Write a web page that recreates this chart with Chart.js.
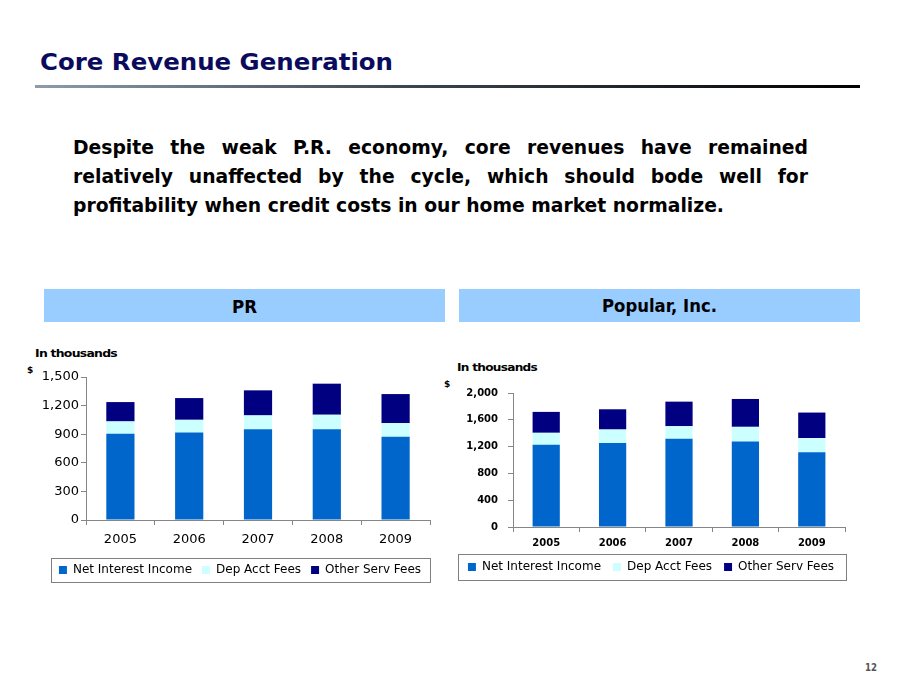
<!DOCTYPE html>
<html><head><meta charset="utf-8">
<script src="https://cdn.jsdelivr.net/npm/chart.js@4"></script>
<style>
html,body{margin:0;padding:0;background:#fff;}
body{width:898px;height:694px;position:relative;overflow:hidden;font-family:"DejaVu Sans",sans-serif;}
.t{position:absolute;top:0;white-space:nowrap;transform-origin:0 50%;line-height:1;}
.bp{display:inline-block;width:0;height:0;vertical-align:baseline;}
.hdr{position:absolute;background:#99ccff;}
canvas{position:absolute;}
</style></head>
<body>
<div class="t" id="title" style="left:40px;font:bold 22.5px 'DejaVu Sans';color:#0b0b5e;">Core Revenue Generation<span class="bp"></span></div>
<div style="position:absolute;left:35px;top:85px;width:825px;height:3px;background:linear-gradient(to right,#8c9cab,#3c4650 45%,#000);"></div>

<div class="t para" id="p1" style="left:73px;">Despite the weak P.R. economy, core revenues have remained<span class="bp"></span></div>
<div class="t para" id="p2" style="left:73px;">relatively unaffected by the cycle, which should bode well for<span class="bp"></span></div>
<div class="t para" id="p3" style="left:73px;">profitability when credit costs in our home market normalize.<span class="bp"></span></div>

<div class="hdr" style="left:44px;top:289px;width:401px;height:33px;"></div>
<div class="hdr" style="left:459px;top:289px;width:401px;height:33px;"></div>
<div class="t hd" id="h1">PR<span class="bp"></span></div>
<div class="t hd" id="h2">Popular, Inc.<span class="bp"></span></div>

<div class="t unit" id="u1">In thousands<span class="bp"></span></div>
<div class="t dol" id="d1">$<span class="bp"></span></div>
<div class="t unit" id="u2">In thousands<span class="bp"></span></div>
<div class="t dol" id="d2">$<span class="bp"></span></div>

<div class="t" id="pg" style="font:bold 10px 'DejaVu Sans';color:#555;">12<span class="bp"></span></div>

<canvas id="c1" width="445" height="230" style="left:0px;top:360px;"></canvas>
<canvas id="c2" width="420" height="210" style="left:440px;top:375px;"></canvas>

<script>
// ---- data ----
const years = ['2005', '2006', '2007', '2008', '2009'];
const seriesNames = ['Net Interest Income', 'Dep Acct Fees', 'Other Serv Fees'];
const seriesColors = ['#0066cc', '#ccffff', '#000080'];
// PR (in thousands)
const prNetInterestIncome = [904, 918, 953, 953, 873];
const prDepAcctFees = [130, 133, 144, 151, 143];
const prOtherServFees = [203, 228, 263, 326, 305];
const prTicks = [0, 300, 600, 900, 1200, 1500];
// Popular, Inc. (in thousands)
const popNetInterestIncome = [1228, 1252, 1317, 1277, 1114];
const popDepAcctFees = [178, 203, 188, 218, 213];
const popOtherServFees = [312, 302, 366, 416, 381];
const popTicks = [0, 400, 800, 1200, 1600, 2000];

// ---- text layout ----
function place(id, x, baseline, width, centerX) {
  const el = document.getElementById(id);
  el.style.transform = 'none';
  el.style.left = (x || 0) + 'px';
  el.style.top = '0px';
  const w = el.getBoundingClientRect().width;
  if (width) { el.style.transform = 'scaleX(' + (width / w) + ')'; }
  if (centerX !== undefined) { el.style.left = (centerX - width / 2) + 'px'; }
  const pr = el.querySelector('.bp').getBoundingClientRect();
  el.style.top = (baseline - pr.top) + 'px';
}
function layoutText() {
  document.querySelectorAll('.para').forEach(e => { e.style.font = "bold 19.5px 'DejaVu Sans Condensed','DejaVu Sans'"; e.style.color = '#000'; });
  document.querySelectorAll('.hd').forEach(e => { e.style.font = "bold 18px 'DejaVu Sans Condensed','DejaVu Sans'"; e.style.color = '#000'; });
  document.querySelectorAll('.unit').forEach(e => { e.style.font = "bold 10px 'DejaVu Sans'"; e.style.letterSpacing = '-0.6px'; e.style.color = '#000'; });
  document.querySelectorAll('.dol').forEach(e => { e.style.font = "bold 9px 'DejaVu Sans'"; e.style.color = '#000'; });
  place('title', 40, 70, 353);
  // paragraph: last line defines scale; first two justified
  const ids = ['p1', 'p2', 'p3'];
  ids.forEach(id => { const el = document.getElementById(id); el.style.transform = 'none'; el.style.wordSpacing = '0px'; el.style.top = '0px'; });
  const p3 = document.getElementById('p3');
  const w3 = p3.getBoundingClientRect().width;
  const s = 651 / w3;
  ['p1', 'p2'].forEach(id => {
    const el = document.getElementById(id);
    const w = el.getBoundingClientRect().width;
    const spaces = (el.textContent.match(/ /g) || []).length;
    el.style.wordSpacing = ((735 / s - w) / spaces) + 'px';
  });
  ids.forEach((id, i) => {
    const el = document.getElementById(id);
    el.style.transform = 'scaleX(' + s + ')';
    const pr = el.querySelector('.bp').getBoundingClientRect();
    el.style.top = ([154, 183, 212][i] - pr.top) + 'px';
  });
  place('h1', 0, 312.5, 25, 244.5);
  place('h2', 0, 311.5, 115, 659.5);
  place('u1', 35, 357, 82);
  place('d1', 27, 373);
  place('u2', 457, 371, 80);
  place('d2', 444, 387);
  place('pg', 865, 671, 12);
}

// ---- chart helpers ----
const legendShift = {
  id: 'legendShift',
  afterLayout(chart, args, opts) {
    const lg = chart.legend;
    if (!lg || !opts.dx) return;
    lg.left += opts.dx; lg.right += opts.dx;
  }
};
const legendBorder = {
  id: 'legendBorder',
  afterDraw(chart, args, opts) {
    const lg = chart.legend;
    if (!lg || !lg.legendHitBoxes || !lg.legendHitBoxes.length) return;
    const hb = lg.legendHitBoxes;
    const minL = Math.min(...hb.map(h => h.left));
    const maxR = Math.max(...hb.map(h => h.left + h.width));
    const cy = hb[0].top + hb[0].height / 2;
    const ctx = chart.ctx;
    ctx.save();
    ctx.strokeStyle = opts.color || '#808080';
    ctx.lineWidth = 1;
    ctx.strokeRect(Math.round(minL - opts.padL) + 0.5, Math.round(cy - opts.half) + 0.5,
      Math.round(maxR - minL + opts.padL + opts.padR), Math.round(opts.half * 2));
    ctx.restore();
  }
};

function makeChart(id, nii, dep, oth, ticks, cfg) {
  const fmt = v => Number(v).toLocaleString('en-US');
  const data = [nii, dep, oth];
  return new Chart(document.getElementById(id), {
    type: 'bar',
    data: {
      labels: years,
      datasets: seriesNames.map((n, i) => ({
        label: n, data: data[i], backgroundColor: seriesColors[i], borderWidth: 0,
        barPercentage: 0.41, categoryPercentage: 1
      }))
    },
    options: {
      responsive: false, animation: false, devicePixelRatio: 1,
      layout: { padding: cfg.padding },
      scales: {
        x: {
          stacked: true,
          grid: { display: true, drawOnChartArea: false, drawTicks: true, tickLength: 5, color: '#868686', offset: true },
          border: { color: '#868686' },
          ticks: { color: '#000', font: cfg.xFont, padding: cfg.xPad, maxRotation: 0 },
          afterFit: s => { s.height = cfg.xHeight; }
        },
        y: {
          stacked: true, min: ticks[0], max: ticks[ticks.length - 1],
          grid: { display: true, drawOnChartArea: false, drawTicks: true, tickLength: 5, color: '#868686' },
          border: { color: '#868686' },
          afterBuildTicks: s => { s.ticks = ticks.map(v => ({ value: v })); },
          ticks: { color: '#000', font: cfg.yFont, padding: cfg.yPad, callback: fmt },
          afterFit: s => { s.width = cfg.yWidth; }
        }
      },
      plugins: {
        tooltip: { enabled: false },
        legend: {
          position: 'bottom',
          labels: { boxWidth: 8, boxHeight: 8, padding: cfg.legPad, color: '#000', font: { family: 'DejaVu Sans', size: 12 } }
        },
        legendShift: { dx: cfg.dx },
        legendBorder: cfg.border
      }
    },
    plugins: [legendShift, legendBorder]
  });
}

makeChart('c1', prNetInterestIncome, prDepAcctFees, prOtherServFees, prTicks, {
  padding: { left: 20, right: 15, top: 17, bottom: 4 },
  xFont: { family: 'DejaVu Sans', size: 13 }, xPad: 7, xHeight: 34,
  yFont: { family: 'DejaVu Sans', size: 13 }, yPad: 2, yWidth: 66,
  legPad: 10, dx: 15,
  border: { padL: 8, padR: 9, half: 12, color: '#7f7f7f' }
});
makeChart('c2', popNetInterestIncome, popDepAcctFees, popOtherServFees, popTicks, {
  padding: { left: 5, right: 15, top: 18, bottom: 2 },
  xFont: { family: 'DejaVu Sans', size: 10, weight: 'bold' }, xPad: 5, xHeight: 22,
  yFont: { family: 'DejaVu Sans', size: 10, weight: 'bold' }, yPad: 10, yWidth: 68,
  legPad: 12, dx: 6,
  border: { padL: 10, padR: 12, half: 13, color: '#7f7f7f' }
});

layoutText();
if (document.fonts && document.fonts.ready) document.fonts.ready.then(layoutText);
</script>
</body></html>
